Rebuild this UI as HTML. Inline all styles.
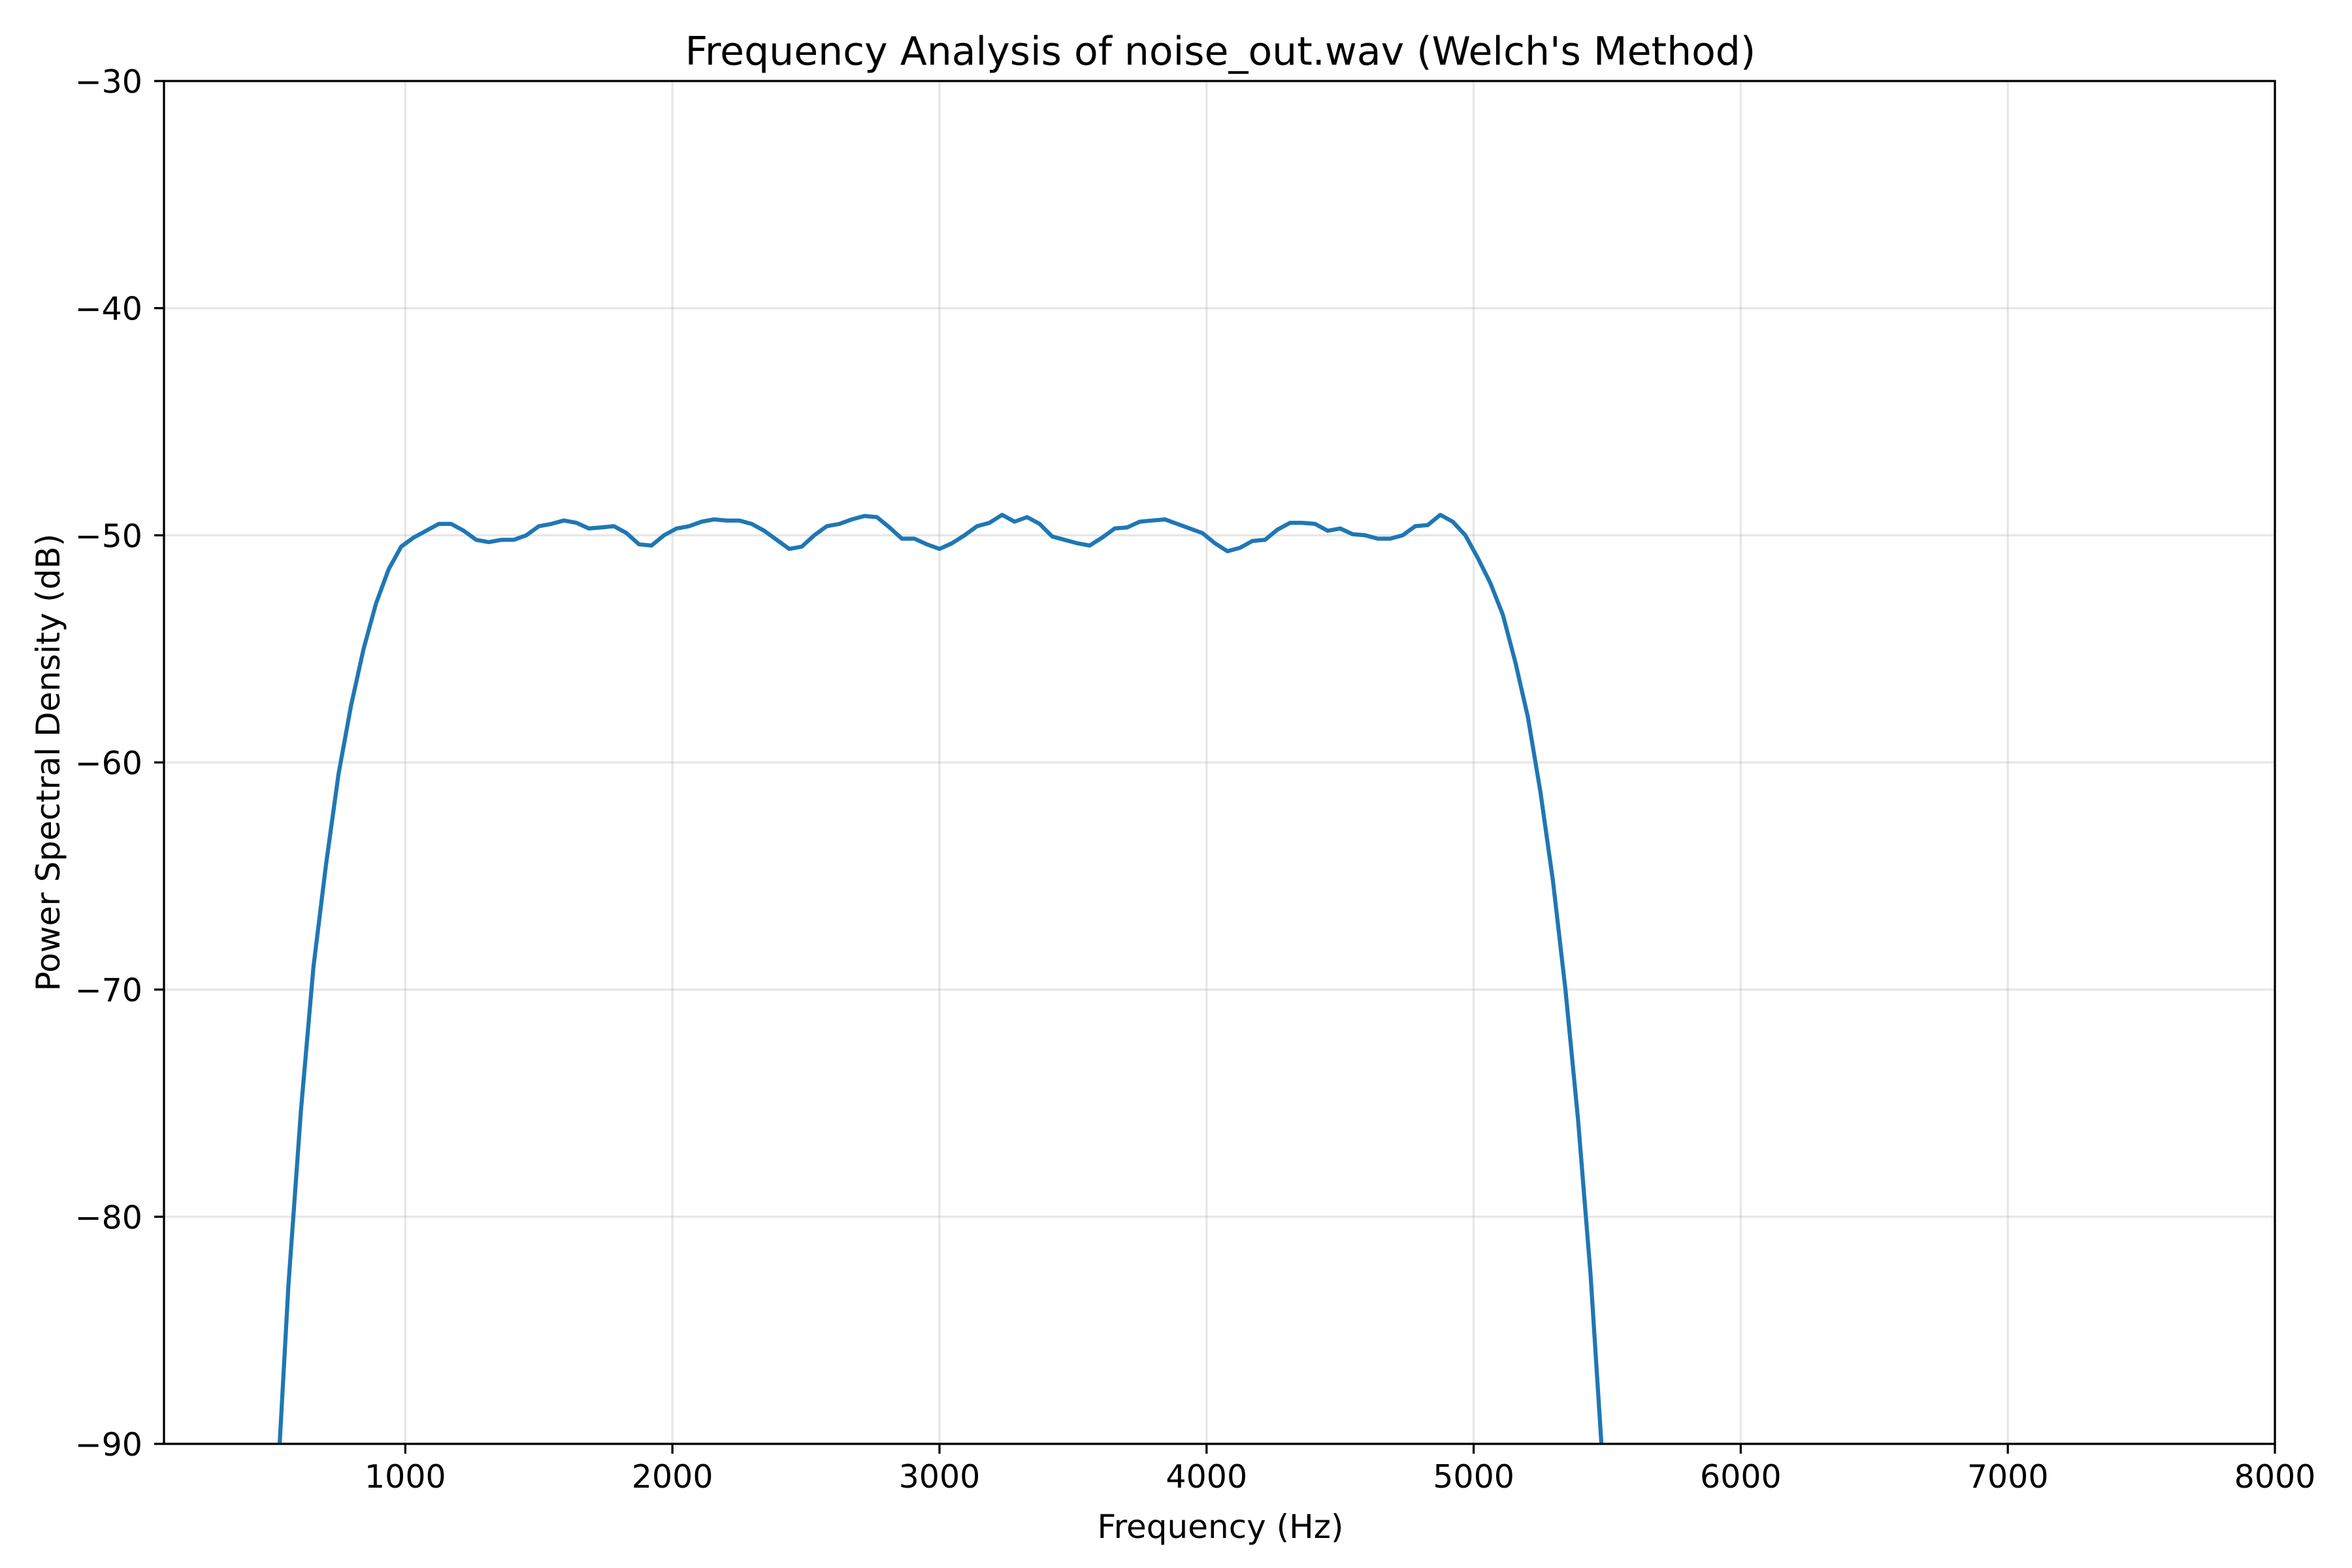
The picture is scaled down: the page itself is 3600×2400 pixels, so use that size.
<!DOCTYPE html>
<html><head><meta charset="utf-8"><style>
html,body{margin:0;padding:0;background:#fff;overflow:hidden;width:3600px;height:2400px;}
svg{display:block;}
svg text{font-family:"DejaVu Sans","Liberation Sans",sans-serif;fill:#000;}
</style></head><body>
<svg id="chart" width="3600" height="2400" viewBox="0 0 3600 2400" xmlns="http://www.w3.org/2000/svg">
<rect x="0" y="0" width="3600" height="2400" fill="#fff"/>
<text x="1868" y="99" font-size="60" text-anchor="middle">Frequency Analysis of noise_out.wav (Welch's Method)</text>
<g id="grid"></g>
<defs><clipPath id="plotclip"><rect x="251" y="124" width="3231" height="2086"/></clipPath></defs>
<g clip-path="url(#plotclip)"><path id="psd-line" fill="none" stroke="#1f77b4" stroke-width="6.25" stroke-linejoin="round" stroke-linecap="square"/></g>
<rect x="251" y="124" width="3231" height="2086" fill="none" stroke="#000" stroke-width="3.3"/>
<g id="ticks"></g>
<text x="1868" y="2354" font-size="50" text-anchor="middle">Frequency (Hz)</text>
<text x="0" y="0" font-size="50" text-anchor="middle" transform="translate(91,1167) rotate(-90)">Power Spectral Density (dB)</text>
</svg>
<script>
const binHz = 46.875;
const psdDb = [
-130,-128,-126,-124,-122,-120,-116,-112,-106,-100,-96,-93,
-83,-75.3,-69,-64.5,-60.5,-57.5,-55,-53,-51.5,-50.5,
-50.1,-49.8,-49.5,-49.5,-49.8,-50.2,-50.3,-50.2,-50.2,-50.0,
-49.6,-49.5,-49.35,-49.45,-49.7,-49.65,-49.6,-49.9,-50.4,-50.45,
-50.0,-49.7,-49.6,-49.4,-49.3,-49.35,-49.35,-49.5,-49.8,-50.2,
-50.6,-50.5,-50.0,-49.6,-49.5,-49.3,-49.15,-49.2,-49.65,-50.15,
-50.15,-50.4,-50.6,-50.35,-50.0,-49.6,-49.45,-49.1,-49.4,-49.2,
-49.5,-50.05,-50.2,-50.35,-50.45,-50.1,-49.7,-49.65,-49.4,-49.35,
-49.3,-49.5,-49.7,-49.9,-50.35,-50.7,-50.55,-50.25,-50.2,-49.75,
-49.45,-49.45,-49.5,-49.8,-49.7,-49.95,-50.0,-50.15,-50.15,-50.0,
-49.6,-49.55,-49.1,-49.4,-50.0,-51.0,-52.1,-53.5,-55.6,-58.0,
-61.3,-65.2,-70.0,-75.7,-82.5,-91.1,-100,-108,-115,-120,
-124,-127,-130,-132,-134,-135,-136,-137,-138,-139,
-140,-140,-141,-141,-142,-142,-143,-143,-143,-144,
-144,-144,-145,-145,-145,-145,-146,-146,-146,-146,
-146,-147,-147,-147,-147,-147,-148,-148,-148,-148,-148,-148,-148,-148
];
const xTicks = [1000,2000,3000,4000,5000,6000,7000,8000];
const xTickLabels = ["1000","2000","3000","4000","5000","6000","7000","8000"];
const yTicks = [-90,-80,-70,-60,-50,-40,-30];
const yTickLabels = ["\u221290","\u221280","\u221270","\u221260","\u221250","\u221240","\u221230"];

const L=251,R=3482,T=124,B=2210, xMin=96.5, xMax=8000, yMin=-90, yMax=-30;
const sx = f => L + (f - xMin) / (xMax - xMin) * (R - L);
const sy = v => B - (v - yMin) / (yMax - yMin) * (B - T);
const NS='http://www.w3.org/2000/svg';
const grid=document.getElementById('grid'), ticks=document.getElementById('ticks');

let d='';
psdDb.forEach((v,i)=>{ d += (i?'L':'M') + sx(i*binHz).toFixed(1) + ',' + sy(v).toFixed(1); });
document.getElementById('psd-line').setAttribute('d', d);

xTicks.forEach((t,i)=>{
  const x=sx(t);
  const g=document.createElementNS(NS,'line');
  g.setAttribute('x1',x);g.setAttribute('x2',x);g.setAttribute('y1',T);g.setAttribute('y2',B);
  g.setAttribute('stroke','#b0b0b0');g.setAttribute('stroke-opacity','0.3');g.setAttribute('stroke-width','3.3');
  
  
  grid.appendChild(g);
  const tk=document.createElementNS(NS,'line');
  tk.setAttribute('x1',x);tk.setAttribute('x2',x);tk.setAttribute('y1',B);tk.setAttribute('y2',B+15);
  tk.setAttribute('stroke','#000');tk.setAttribute('stroke-width','3.3');
  
  
  ticks.appendChild(tk);
  const tx=document.createElementNS(NS,'text');
  tx.setAttribute('x',x);tx.setAttribute('y',2277);tx.setAttribute('font-size','49');tx.setAttribute('text-anchor','middle');
  tx.textContent=xTickLabels[i];
  
  
  ticks.appendChild(tx);
});
yTicks.forEach((t,i)=>{
  const y=sy(t);
  const g=document.createElementNS(NS,'line');
  g.setAttribute('x1',L);g.setAttribute('x2',R);g.setAttribute('y1',y);g.setAttribute('y2',y);
  g.setAttribute('stroke','#b0b0b0');g.setAttribute('stroke-opacity','0.3');g.setAttribute('stroke-width','3.3');
  
  
  grid.appendChild(g);
  const tk=document.createElementNS(NS,'line');
  tk.setAttribute('x1',L-15);tk.setAttribute('x2',L);tk.setAttribute('y1',y);tk.setAttribute('y2',y);
  tk.setAttribute('stroke','#000');tk.setAttribute('stroke-width','3.3');
  
  
  ticks.appendChild(tk);
  const tx=document.createElementNS(NS,'text');
  tx.setAttribute('x',218);tx.setAttribute('y',y+18);tx.setAttribute('font-size','49');tx.setAttribute('text-anchor','end');
  tx.textContent=yTickLabels[i];
  
  
  ticks.appendChild(tx);
});
</script>
</body></html>
